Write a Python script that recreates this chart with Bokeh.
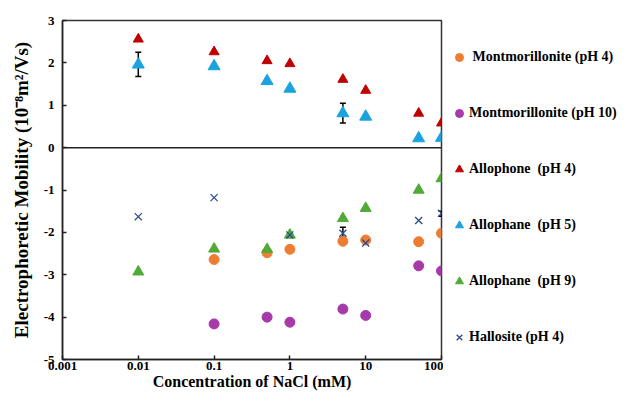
from bokeh.plotting import figure
from bokeh.layouts import row
from bokeh.models import (ColumnDataSource, FixedTicker, CustomJSTickFormatter, Span,
                          Whisker, TeeHead, Legend, LegendItem)
from bokeh.embed import file_html
from bokeh.resources import INLINE

# ---- data ----
conc8 = [0.01, 0.1, 0.5, 1, 5, 10, 50, 100]
conc7 = [0.1, 0.5, 1, 5, 10, 50, 100]
hallo_x = [0.01, 0.1, 1, 5, 10, 50, 100]

mont_ph4 = [-2.64, -2.48, -2.40, -2.21, -2.18, -2.22, -2.02]
mont_ph10 = [-4.16, -4.00, -4.12, -3.81, -3.96, -2.79, -2.91]
allo_ph4 = [2.56, 2.26, 2.05, 1.98, 1.61, 1.35, 0.81, 0.58]
allo_ph5 = [1.96, 1.92, 1.57, 1.39, 0.81, 0.73, 0.22, 0.23]
allo_ph9 = [-2.93, -2.39, -2.40, -2.06, -1.67, -1.43, -1.00, -0.73]
hallo_ph4 = [-1.63, -1.18, -2.06, -2.02, -2.25, -1.72, -1.55]

err_x = [0.01, 5, 5, 100, 1]
err_lo = [1.68, 0.58, -2.12, -1.62, -2.12]
err_hi = [2.25, 1.05, -1.88, -1.50, -2.02]

labels = [" Montmorillonite (pH 4)", "Montmorillonite (pH 10)", "Allophone  (pH 4)",
          "Allophane  (pH 5)", "Allophane  (pH 9)", "Hallosite (pH 4)"]
markers = ["circle", "circle", "triangle", "triangle", "triangle", "x"]
colors = ["#EE7D33", "#A63AA8", "#C00000", "#1AA3DE", "#50AA36", "#2E4C8B"]

x_ticks = [0.001, 0.01, 0.1, 1, 10, 100]
y_ticks = [-5, -4, -3, -2, -1, 0, 1, 2, 3]

FONT = "Liberation Serif"

p = figure(width=443, height=392, x_axis_type="log", x_range=(0.001, 100), y_range=(-5, 3),
           output_backend="svg", toolbar_location=None,
           min_border_left=62, min_border_right=2, min_border_top=20, min_border_bottom=30)
p.grid.visible = False
p.background_fill_color = "white"
p.border_fill_color = "white"
p.outline_line_color = "#333333"
p.outline_line_width = 1.5

p.add_layout(Span(location=0, dimension="width", line_color="#222222", line_width=1.5))

p.scatter(conc7, mont_ph4, marker="circle", size=10, color=colors[0])
p.scatter(conc7, mont_ph10, marker="circle", size=10, color=colors[1])
p.scatter(conc8, allo_ph4, marker="triangle", size=10, color=colors[2])
p.scatter(conc8, allo_ph5, marker="triangle", size=12, color=colors[3])
p.scatter(conc8, allo_ph9, marker="triangle", size=11, color=colors[4])
p.scatter(hallo_x, hallo_ph4, marker="x", size=10, line_color=colors[5], line_width=1.3)

esrc = ColumnDataSource(dict(x=err_x, lo=err_lo, hi=err_hi))
p.add_layout(Whisker(source=esrc, base="x", lower="lo", upper="hi", dimension="height",
                     line_color="black", line_width=1.5,
                     upper_head=TeeHead(size=6, line_color="black", line_width=1.5),
                     lower_head=TeeHead(size=6, line_color="black", line_width=1.5)))

fmt = CustomJSTickFormatter(code="return tick.toString();")
for ax, ticks in ((p.xaxis, x_ticks), (p.yaxis, y_ticks)):
    ax.ticker = FixedTicker(ticks=ticks)
    ax.formatter = fmt
    ax.major_tick_in = 4
    ax.major_tick_out = 0
    ax.minor_tick_line_color = None
    ax.axis_line_color = "#222222"
    ax.axis_line_width = 1.5
    ax.major_tick_line_color = "#222222"
    ax.major_tick_line_width = 1.5
    ax.major_label_text_font = FONT
    ax.major_label_text_font_style = "bold"
    ax.major_label_text_font_size = "13px"
    ax.major_label_text_color = "black"
    ax.axis_label_text_font = FONT
    ax.axis_label_text_font_style = "bold"
    ax.axis_label_text_color = "black"

p.xaxis.axis_label = "Concentration of NaCl (mM)"
p.yaxis.axis_label = "Electrophoretic Mobility (10\u207b\u2078m\u00b2/Vs)"
p.xaxis.axis_label_text_font_size = "16px"
p.yaxis.axis_label_text_font_size = "19px"
p.xaxis.major_label_standoff = 2
p.xaxis.axis_label_standoff = 0
p.yaxis.major_label_standoff = 8
p.yaxis.axis_label_standoff = 9

# ---- legend panel (separate figure so the legend can sit outside the frame) ----
q = figure(width=174, height=392, x_range=(0, 1), y_range=(0, 1),
           output_backend="svg", toolbar_location=None,
           x_axis_location=None, y_axis_location=None,
           min_border_left=0, min_border_right=0, min_border_top=0, min_border_bottom=0)
q.grid.visible = False
q.outline_line_color = None
q.background_fill_color = "white"
q.border_fill_color = "white"

items = []
for lab, mk, col in zip(labels, markers, colors):
    if mk == "x":
        r = q.scatter([5], [5], marker=mk, size=10, line_color=col, line_width=1.3)
    else:
        r = q.scatter([5], [5], marker=mk, size=10, color=col)
    items.append(LegendItem(label=lab, renderers=[r]))

legend = Legend(items=items, location=(6, 12), margin=0, padding=0, spacing=36,
                glyph_width=20, glyph_height=20, label_height=20, label_standoff=0,
                border_line_color=None, background_fill_alpha=0,
                label_text_font=FONT, label_text_font_style="bold",
                label_text_font_size="14px", label_text_color="black")
q.add_layout(legend, "center")

layout = row(p, q)
open("out.html", "w").write(file_html(layout, INLINE))
